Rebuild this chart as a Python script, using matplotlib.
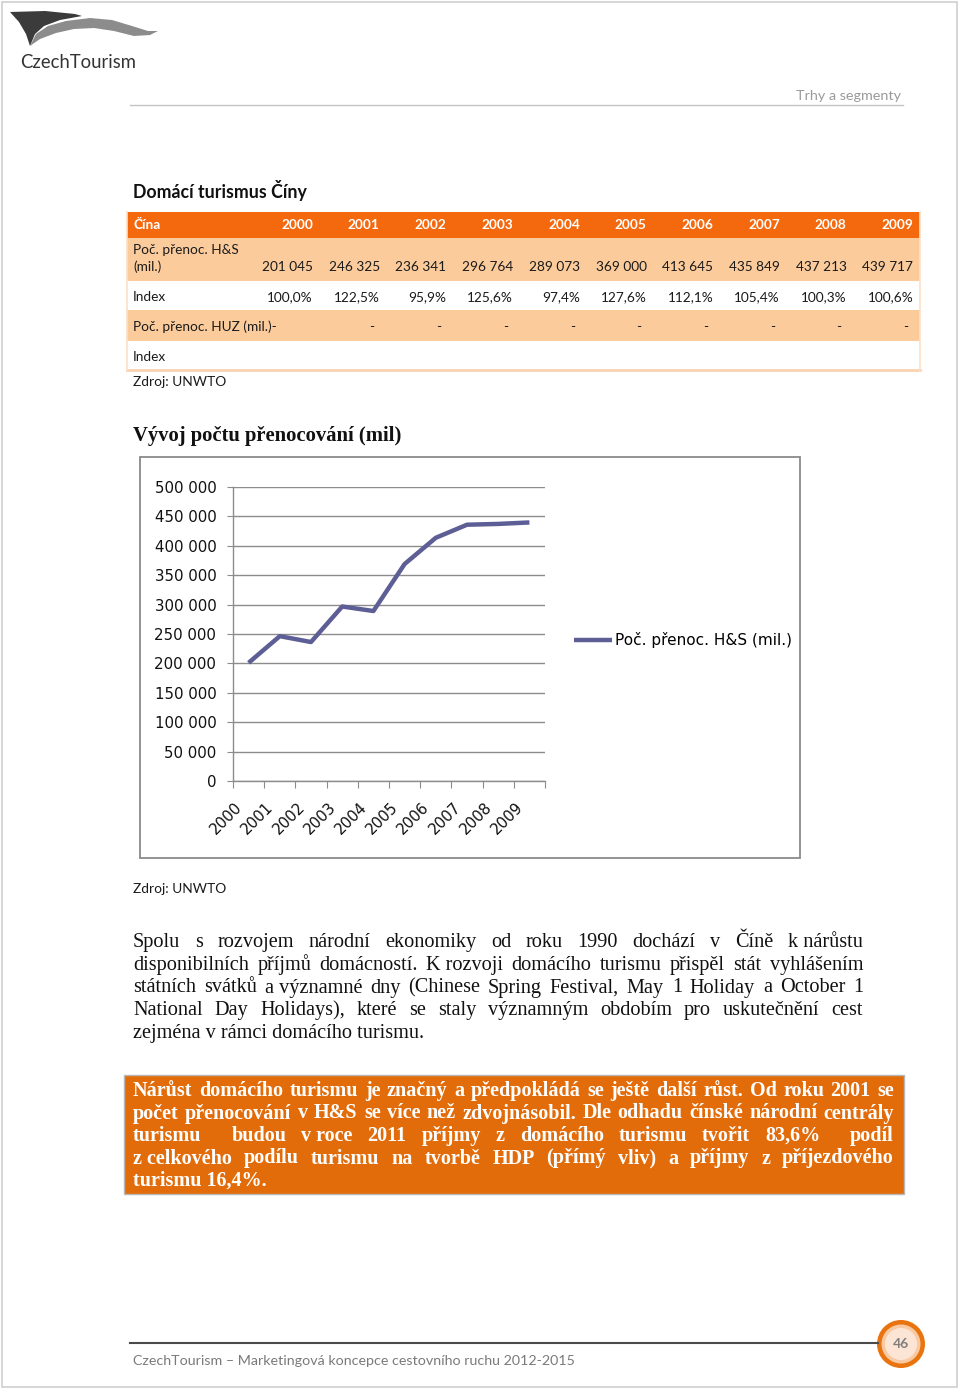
import matplotlib
matplotlib.use("Agg")
import matplotlib.pyplot as plt
from matplotlib.patches import Rectangle, Polygon, Circle
from matplotlib.ticker import FuncFormatter, FixedLocator
import matplotlib.transforms as mtransforms

# ---------------- data ----------------
years = ["2000", "2001", "2002", "2003", "2004", "2005", "2006", "2007", "2008", "2009"]
overnights_hs = [201045, 246325, 236341, 296764, 289073, 369000, 413645, 435849, 437213, 439717]
index_hs = ["100,0%", "122,5%", "95,9%", "125,6%", "97,4%", "127,6%", "112,1%", "105,4%", "100,3%", "100,6%"]
overnights_huz = ["-", "-", "-", "-", "-", "-", "-", "-", "-", "-"]
y_ticks = [0, 50000, 100000, 150000, 200000, 250000, 300000, 350000, 400000, 450000, 500000]
series_label = "Poč. přenoc. H&S (mil.)"

paragraph = [
    "Spolu s rozvojem národní ekonomiky od roku 1990 dochází v Číně k\u00a0nárůstu",
    "disponibilních příjmů domácností. K\u00a0rozvoji domácího turismu přispěl stát vyhlášením",
    "státních svátků a\u00a0významné dny (Chinese Spring Festival, May 1 Holiday a October 1",
    "National Day Holidays), které se staly významným obdobím pro uskutečnění cest",
    "zejména v rámci domácího turismu.",
]
box_text = [
    "Nárůst domácího turismu je značný a předpokládá se ještě další růst. Od roku 2001 se",
    "počet přenocování v H&S se více než zdvojnásobil. Dle odhadu čínské národní centrály",
    "turismu  budou v\u00a0roce 2011 příjmy z domácího turismu tvořit 83,6%  podíl",
    "z\u00a0celkového podílu turismu na tvorbě HDP (přímý vliv) a příjmy z příjezdového",
    "turismu 16,4%.",
]

def fmt_space(v):
    return f"{int(v):,}".replace(",", " ")

# ---------------- figure / page ----------------
W, H = 960, 1390
fig = plt.figure(figsize=(W / 100, H / 100), dpi=100)
page = fig.add_axes([0, 0, 1, 1])
page.set_xlim(0, W)
page.set_ylim(H, 0)
page.axis("off")
renderer = fig.canvas.get_renderer()

SANS = ["Lato", "DejaVu Sans"]
NARROW = ["Liberation Sans Narrow", "Lato", "DejaVu Sans"]
SERIF = ["Liberation Serif", "DejaVu Serif"]

def width_of(t):
    return t.get_window_extent(renderer).width

def fit_text(x, y, s, target_w, size0=12, **kw):
    t = page.text(x, y, s, fontsize=size0, **kw)
    w = width_of(t)
    t.set_fontsize(size0 * target_w / w)
    return t

def justify(lines, x0, x1, y0, dy, size, **kw):
    # shrink the size if any line would not fit
    for line in lines[:-1]:
        t = page.text(x0, y0, line, fontsize=size, va="baseline", **kw)
        w = width_of(t)
        t.remove()
        if w > (x1 - x0) * 0.985:
            size = size * (x1 - x0) * 0.985 / w
    for i, line in enumerate(lines):
        y = y0 + i * dy
        words = line.split(" ")
        if i == len(lines) - 1 or len(words) == 1:
            page.text(x0, y, line, fontsize=size, va="baseline", **kw)
            continue
        texts, widths = [], []
        for w in words:
            t = page.text(x0, y, w, fontsize=size, va="baseline", **kw)
            texts.append(t)
            widths.append(width_of(t) if w else 0.0)
        gap = (x1 - x0 - sum(widths)) / (len(words) - 1)
        x = x0
        for t, wd in zip(texts, widths):
            t.set_x(x)
            x += wd + gap

# page frame
page.add_patch(Rectangle((2, 2), W - 5, H - 5, fill=False, ec="#cfcfcf", lw=1.2))

# logo
page.add_patch(Polygon([(10, 12), (45, 11), (75, 14), (82, 16), (60, 20), (44, 26), (35, 34),
                        (30, 46), (26, 34), (19, 22)], closed=True, fc="#3b3b3b", ec="none"))
page.add_patch(Polygon([(30, 46), (36, 34), (48, 26), (66, 21), (90, 18), (112, 20), (132, 26),
                        (148, 31), (158, 31), (150, 35), (134, 36), (114, 31), (94, 28), (74, 29),
                        (56, 33), (40, 39)], closed=True, fc="#8c8c8c", ec="none"))
fit_text(20, 68, "CzechTourism", 116, family=NARROW, color="#333333", va="baseline")

# header
page.plot([130, 903], [105, 105], color="#c4c4c4", lw=1)
fit_text(901, 100, "Trhy a segmenty", 105, family=SANS, color="#9a9a9a", va="baseline", ha="right")

# title
fit_text(133, 198, "Domácí turismus Číny", 173, family=SANS, weight="bold", color="#111111", va="baseline")

# ---------------- table ----------------
ORANGE = "#F4690E"
PEACH = "#FBCB9B"
tx0, tx1 = 127, 920
page.add_patch(Rectangle((tx0, 212), tx1 - tx0, 26, fc=ORANGE, ec="none"))
page.add_patch(Rectangle((tx0, 238), tx1 - tx0, 43, fc=PEACH, ec="none"))
page.add_patch(Rectangle((tx0, 310), tx1 - tx0, 31, fc=PEACH, ec="none"))
page.plot([tx0, tx1], [370, 370], color="#F9D3B0", lw=2)
page.plot([tx0, tx0], [212, 370], color="#FBE0C6", lw=1.2)
page.plot([tx1, tx1], [212, 370], color="#FBE0C6", lw=1.2)

tsize = 9.8
col_right = [313 + i * 66.7 for i in range(len(years))]
page.text(133, 229, "Čína", fontsize=tsize, family=SANS, weight="bold", color="white", va="baseline")
page.text(133, 254, "Poč. přenoc. H&S", fontsize=tsize, family=SANS, color="#1a1a1a", va="baseline")
page.text(133, 271, "(mil.)", fontsize=tsize, family=SANS, color="#1a1a1a", va="baseline")
page.text(133, 301, "Index", fontsize=tsize, family=SANS, color="#1a1a1a", va="baseline")
page.text(133, 331, "Poč. přenoc. HUZ (mil.)" + overnights_huz[0], fontsize=tsize, family=SANS,
          color="#1a1a1a", va="baseline")
page.text(133, 361, "Index", fontsize=tsize, family=SANS, color="#1a1a1a", va="baseline")
for i, xr in enumerate(col_right):
    page.text(xr, 229, years[i], fontsize=tsize, family=SANS, weight="bold", color="white",
              va="baseline", ha="right")
    page.text(xr, 271, fmt_space(overnights_hs[i]), fontsize=tsize, family=SANS, color="#1a1a1a",
              va="baseline", ha="right")
    page.text(xr, 301, index_hs[i], fontsize=tsize, family=SANS, color="#1a1a1a",
              va="baseline", ha="right")
    if i > 0:
        page.text(xr - 5, 331, overnights_huz[i], fontsize=tsize, family=SANS, color="#1a1a1a",
                  va="baseline", ha="right")

fit_text(133, 386, "Zdroj: UNWTO", 93, family=SANS, color="#1a1a1a", va="baseline")

# chart title
fit_text(133, 441, "Vývoj počtu přenocování (mil)", 267, family=SERIF, weight="bold",
         color="#111111", va="baseline")

# chart frame
page.add_patch(Rectangle((140, 457), 660, 401, fill=False, ec="#8a8a8a", lw=1.3))

# ---------------- chart ----------------
px_l, px_r, px_t, px_b = 233, 545, 487, 781
ax = fig.add_axes([px_l / W, 1 - px_b / H, (px_r - px_l) / W, (px_b - px_t) / H])
ax.set_facecolor("none")
LINE = "#5E5E96"
GRID = "#8c8c8c"
xs = list(range(len(years)))
ax.plot(xs, overnights_hs, color=LINE, lw=3.2, label=series_label, solid_capstyle="butt")
ax.set_xlim(-0.5, len(years) - 0.5)
ax.set_ylim(y_ticks[0], y_ticks[-1])
ax.yaxis.set_major_locator(FixedLocator(y_ticks))
ax.yaxis.set_major_formatter(FuncFormatter(lambda v, p: fmt_space(v)))
ax.yaxis.grid(True, color=GRID, lw=1)
ax.set_axisbelow(True)
for s in ("top", "right"):
    ax.spines[s].set_visible(False)
for s in ("left", "bottom"):
    ax.spines[s].set_color(GRID)
    ax.spines[s].set_linewidth(1)
ax.tick_params(axis="y", length=4, color=GRID, pad=8, labelsize=10.8, labelcolor="#111111")
ax.set_xticks([i - 0.5 for i in range(len(years) + 1)])
ax.set_xticklabels([])
ax.tick_params(axis="x", which="major", length=5, color=GRID, direction="out")
ax.set_xticks(xs, minor=True)
ax.set_xticklabels(years, minor=True, rotation=45, ha="right", va="top",
                   rotation_mode="anchor", fontsize=10.8, color="#111111")
ax.tick_params(axis="x", which="minor", length=0, pad=2)
off = mtransforms.ScaledTranslation(-14 / 100, -16 / 100, fig.dpi_scale_trans)
for lab in ax.get_xticklabels(minor=True):
    lab.set_transform(lab.get_transform() + off)
for lab in ax.get_yticklabels():
    lab.set_family("DejaVu Sans")
ax.legend(loc="center left", bbox_to_anchor=(574 / W, 1 - 640 / H), bbox_transform=fig.transFigure,
          frameon=False, handlelength=2.5, handletextpad=0.2, borderpad=0, borderaxespad=0,
          prop={"family": "DejaVu Sans", "size": 11})

fit_text(133, 893, "Zdroj: UNWTO", 93, family=SANS, color="#1a1a1a", va="baseline")

# ---------------- paragraph ----------------
justify(paragraph, 133, 863, 947, 22.75, 14.6, family=SERIF, color="#111111")

# orange box
page.add_patch(Rectangle((124, 1075), 780, 119, fc="#E36C0A", ec="#b7b7b7", lw=1))
justify(box_text, 133, 894, 1096, 22.5, 14.8, family=SERIF, weight="bold", color="white")

# ---------------- footer ----------------
page.plot([130, 878], [1343, 1343], color="#4a4a4a", lw=1.5)
fit_text(133, 1365, "CzechTourism – Marketingová koncepce cestovního ruchu 2012-2015", 443,
         family=SANS, color="#7a7a7a", va="baseline")
page.add_patch(Circle((901, 1344), 24, fc="#E8730F", ec="none"))
page.add_patch(Circle((901, 1344), 19.5, fc="#F8C9A2", ec="none"))
page.add_patch(Circle((901, 1344), 16, fc="#FCE5D4", ec="none"))
page.text(901, 1344, "46", fontsize=10, family=SANS, weight="bold", color="#808080",
          ha="center", va="center")

fig.savefig("out.png", dpi=100)
